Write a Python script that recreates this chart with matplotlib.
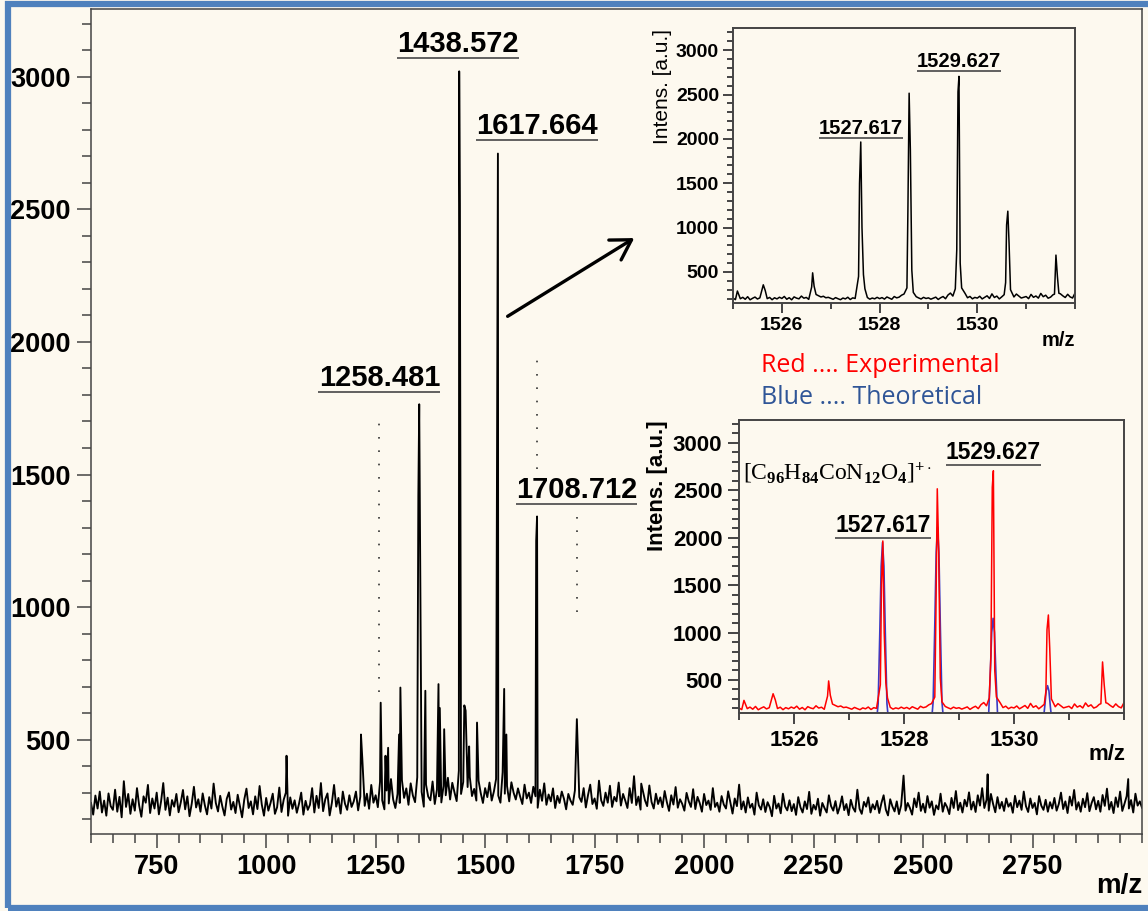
import matplotlib.pyplot as plt
from matplotlib.patches import Rectangle
import numpy as np

# ---- main spectrum: baseline noise every 5 m/z from 600 to 3000 ----
base_start, base_step = 600, 5
base_int = [
    262, 218, 290, 241, 305, 226, 271, 214, 298, 250, 236, 312, 229, 285, 208, 344, 247, 296, 221, 276,
    233, 318, 252, 210, 287, 263, 330, 224, 279, 241, 301, 219, 268, 337, 236, 282, 215, 273, 248, 296,
    227, 264, 311, 238, 287, 212, 259, 323, 245, 276, 229, 298, 253, 219, 284, 241, 335, 262, 230, 289,
    248, 215, 278, 302, 237, 266, 224, 293, 251, 208, 275, 316, 243, 268, 219, 287, 239, 326, 256, 214,
    281, 233, 262, 297, 221, 246, 320, 228, 274, 301, 214, 283, 240, 272, 225, 259, 301, 218, 270, 236,
    255, 318, 226, 289, 243, 337, 231, 276, 298, 215, 262, 330, 248, 281, 222, 305, 259, 236, 291, 247,
    268, 305, 234, 286, 322, 251, 297, 240, 330, 263, 291, 246, 341, 272, 238, 309, 260, 352, 275, 243,
    296, 262, 348, 281, 317, 255, 336, 290, 265, 359, 277, 304, 248, 331, 286, 272, 343, 258, 312, 287,
    264, 326, 291, 357, 275, 338, 302, 269, 384, 296, 341, 277, 322, 360, 288, 315, 271, 346, 299, 262,
    318, 284, 339, 271, 305, 352, 290, 263, 378, 297, 326, 268, 340, 301, 275, 317, 286, 258, 331, 279,
    301, 262, 323, 287, 244, 312, 270, 336, 255, 294, 268, 317, 243, 289, 262, 305, 278, 238, 296, 271,
    255, 309, 236, 284, 266, 318, 245, 292, 331, 258, 279, 240, 346, 272, 251, 301, 263, 327, 247, 285,
    268, 339, 252, 296, 271, 243, 318, 262, 363, 254, 286, 237, 309, 272, 250, 328, 266, 241, 297, 258,
    283, 246, 307, 265, 232, 291, 256, 322, 244, 276, 259, 233, 300, 268, 247, 314, 239, 285, 262, 229,
    296, 254, 271, 236, 318, 247, 263, 229, 288, 256, 241, 306, 265, 222, 279, 250, 331, 238, 268, 226,
    283, 244, 259, 218, 301, 253, 237, 276, 228, 265, 246, 212, 289, 241, 260, 223, 297, 249, 234, 272,
    231, 258, 217, 284, 246, 226, 268, 239, 304, 221, 255, 237, 278, 214, 262, 243, 226, 291, 250, 233,
    269, 222, 248, 287, 235, 258, 216, 274, 244, 229, 312, 240, 221, 266, 248, 283, 226, 257, 238, 270,
    224, 262, 291, 237, 215, 276, 249, 230, 268, 220, 253, 284, 233, 262, 243, 218, 279, 246, 301, 232,
    259, 226, 288, 244, 268, 217, 253, 238, 297, 229, 262, 246, 220, 281, 243, 307, 235, 263, 226, 274,
    249, 302, 237, 267, 228, 291, 252, 318, 243, 274, 233, 296, 258, 227, 284, 241, 266, 232, 279, 248,
    262, 225, 289, 246, 271, 236, 305, 250, 228, 279, 243, 262, 219, 288, 252, 236, 274, 229, 265, 241,
    281, 233, 258, 301, 239, 268, 224, 286, 252, 311, 237, 265, 229, 278, 246, 299, 231, 262, 284, 238,
    270, 229, 292, 251, 316, 237, 266, 224, 283, 247, 305, 232, 259, 288, 241, 273, 226, 297, 252, 268,
    244,
]

# spikes on top of the baseline (m/z, intensity)
peak_mz = [1046.5, 1216.5, 1219.5, 1261.5, 1272.5, 1278.5, 1303.5, 1306.5,
           1347.5, 1349.5, 1363.5, 1393.5, 1396.5, 1406.5, 1440.8, 1442.3,
           1452.5, 1455.5, 1463.5, 1481.5, 1527.6, 1529.2, 1543.5, 1548.5,
           1616.6, 1618.6, 1709.5, 1856.5, 2455.5, 2647.5, 2968.5]
peak_int = [440, 520, 430, 640, 440, 470, 520, 697,
            1420, 1765, 685, 710, 620, 540, 3020, 2515,
            630, 610, 475, 565, 1795, 2710, 692, 520,
            1250, 1342, 578, 335, 365, 370, 352]

# labelled masses: dotted marker lines (top / bottom intensity)
mark_mz = [1258.481, 1617.664, 1708.712]
mark_top = [1725, 1965, 1340]
mark_bot = [680, 1520, 980]

main_labels = ["1258.481", "1438.572", "1617.664", "1708.712"]
main_label_mz = [1258.481, 1438.572, 1617.664, 1708.712]
main_label_int = [1865, 3124, 2815, 1443]

# ---- zoomed isotope pattern 1525-1532 ----
iso_start, iso_step = 1525.0, 0.05
iso_base = [
    205, 188, 236, 198, 214, 192, 221, 186, 203, 217, 195, 208, 242, 226, 199, 213, 187, 209, 196, 215,
    201, 224, 192, 210, 186, 219, 205, 197, 228, 204, 213, 191, 223, 208, 246, 232, 218, 226, 209, 214,
    203, 192, 211, 198, 187, 206, 196, 215, 189, 208, 201, 231, 262, 219, 205, 212, 193, 206, 197, 214,
    199, 211, 194, 218, 205, 192, 223, 208, 216, 238, 251, 226, 271, 213, 248, 221, 207, 195, 214, 201,
    208, 193, 204, 216, 190, 209, 223, 198, 240, 262, 228, 231, 276, 219, 243, 258, 209, 224, 197, 213,
    205, 226, 196, 214, 231, 201, 253, 212, 228, 196, 219, 244, 207, 233, 202, 218, 251, 228, 206, 215,
    223, 199, 247, 214, 229, 205, 258, 221, 238, 204, 216, 243, 208, 226, 254, 231, 212, 248, 219, 206,
    262,
]
exp_mz = [1525.09,
          1525.58, 1525.62, 1525.66,
          1526.61, 1526.63, 1526.66,
          1527.57, 1527.59, 1527.615, 1527.64, 1527.67, 1527.70,
          1528.56, 1528.58, 1528.605, 1528.63, 1528.66, 1528.69,
          1529.55, 1529.58, 1529.605, 1529.625, 1529.65, 1529.68,
          1530.58, 1530.60, 1530.625, 1530.65, 1530.68,
          1531.58, 1531.61, 1531.64, 1531.67]
exp_int = [285,
           270, 355, 290,
           330, 490, 340,
           450, 1500, 1965, 1000, 470, 310,
           320, 1200, 2515, 1880, 520, 270,
           310, 750, 2530, 2705, 600, 320,
           380, 1030, 1185, 830, 300,
           250, 690, 450, 260]

theo_mz = [1525.0,
           1527.49, 1527.53, 1527.56, 1527.585, 1527.61, 1527.635, 1527.66, 1527.69, 1527.73,
           1528.49, 1528.53, 1528.56, 1528.585, 1528.61, 1528.635, 1528.66, 1528.69, 1528.73,
           1529.50, 1529.54, 1529.57, 1529.595, 1529.62, 1529.645, 1529.67, 1529.70, 1529.74,
           1530.49, 1530.53, 1530.56, 1530.585, 1530.61, 1530.635, 1530.66, 1530.69, 1530.73,
           1532.0]
theo_int = [0,
            0, 250, 1000, 1700, 1950, 1700, 1000, 250, 0,
            0, 270, 1080, 1840, 2110, 1840, 1080, 270, 0,
            0, 150, 590, 1000, 1150, 1000, 590, 150, 0,
            0, 60, 225, 385, 440, 385, 225, 60, 0,
            0]

iso_labels = ["1527.617", "1529.627"]
iso_label_mz = [1527.617, 1529.627]
iso_label_int_top = [2122, 2876]
iso_label_int_bot = [2133, 2902]


def merge(start, step, base, mz, inten, gap):
    bx = start + step * np.arange(len(base))
    by = np.array(base, dtype=float)
    px_ = np.array(mz, dtype=float)
    keep = np.array([np.min(np.abs(px_ - v)) > gap for v in bx])
    x = np.concatenate([bx[keep], px_])
    y = np.concatenate([by[keep], np.array(inten, dtype=float)])
    order = np.argsort(x)
    return x[order], y[order]


W, H = 1148, 911
cream = '#FDF9EF'
spine = '#444444'

plt.rcParams['font.family'] = ['Liberation Sans', 'DejaVu Sans']
plt.rcParams['font.weight'] = 'bold'
plt.rcParams['mathtext.fontset'] = 'custom'
plt.rcParams['mathtext.rm'] = 'Liberation Serif'
plt.rcParams['mathtext.it'] = 'Liberation Serif:italic'
plt.rcParams['mathtext.bf'] = 'Liberation Serif:bold'


def box(l, t, r, b):
    return [l / W, 1 - b / H, (r - l) / W, (b - t) / H]


def style(ax, lw, size, maj, mnr, pad):
    ax.set_facecolor(cream)
    for s in ax.spines.values():
        s.set_color(spine)
        s.set_linewidth(lw)
    ax.tick_params(which='both', direction='out', color=spine, width=lw,
                   labelsize=size, pad=pad)
    ax.tick_params(which='major', length=maj)
    ax.tick_params(which='minor', length=mnr)


def peak_label(ax, x, y_text, y_line, text, half, size):
    ax.text(x, y_text, text, ha='center', va='center', fontsize=size,
            fontweight='bold', zorder=5)
    ax.hlines(y_line, x - half, x + half, color='#555555', lw=1.3, zorder=5)


fig = plt.figure(figsize=(W / 100, H / 100), dpi=100, facecolor=cream)

# ---- main spectrum ----
ax = fig.add_axes(box(91, 9, 1142, 834))
style(ax, 1.1, 19.5, 10, 6.5, 4.5)
mx, my = merge(base_start, base_step, base_int, peak_mz, peak_int, 0.5)
ax.plot(mx, my, color='black', lw=1.35)
ax.set_xlim(600, 3000)
ax.set_ylim(145, 3255)
ax.set_xticks(np.arange(750, 2751, 250))
ax.set_xticks(np.arange(600, 3001, 50), minor=True)
ax.set_yticks(np.arange(500, 3001, 500))
ax.set_yticks(np.arange(200, 3201, 100), minor=True)
ax.vlines(mark_mz, mark_bot, mark_top, color='#333333', lw=1.2,
          linestyles=(0, (1, 7)))
for t, x, y in zip(main_labels, main_label_mz, main_label_int):
    peak_label(ax, x, y, y - 55, t, 139, 21)
ax.annotate('', xy=(1846, 2397), xytext=(1546, 2091),
            arrowprops=dict(arrowstyle='->,head_length=0.5,head_width=0.3',
                            lw=2.4, color='black', mutation_scale=28))
fig.text(1142 / W, 1 - 886 / H, 'm/z', ha='right', va='center', fontsize=20)

# ---- zoom, experimental only ----
ax1 = fig.add_axes(box(733, 28, 1075, 303))
style(ax1, 1.4, 14, 7, 4.5, 3)
ex, ey = merge(iso_start, iso_step, iso_base, exp_mz, exp_int, 0.025)
ax1.plot(ex, ey, color='black', lw=1.1)
ax1.set_xlim(1525, 1532)
ax1.set_ylim(150, 3250)
ax1.set_xticks([1526, 1528, 1530])
ax1.set_xticks(np.arange(1525, 1533, 1), minor=True)
ax1.set_yticks(np.arange(500, 3001, 500))
ax1.set_yticks(np.arange(200, 3201, 100), minor=True)
for t, x, y in zip(iso_labels, iso_label_mz, iso_label_int_top):
    peak_label(ax1, x, y, y - 113, t, 0.86, 14.5)
fig.text(662 / W, 1 - 86 / H, 'Intens. [a.u.]', rotation=90, ha='center',
         va='center', fontsize=15, fontweight='normal')
fig.text(1075 / W, 1 - 340 / H, 'm/z', ha='right', va='center', fontsize=14.5)

fig.text(761 / W, 1 - 365 / H, 'Red .... Experimental', color='#FF0000',
         family='Open Sans', fontweight='normal', fontsize=18, va='center')
fig.text(761 / W, 1 - 398 / H, 'Blue .... Theoretical', color='#2F5597',
         family='Open Sans', fontweight='normal', fontsize=18, va='center')

# ---- zoom, experimental vs theoretical ----
ax2 = fig.add_axes(box(739, 420, 1124, 713))
style(ax2, 1.4, 16, 8, 5, 4)
ax2.plot(theo_mz, theo_int, color='#3B3BC4', lw=1.2)
ax2.plot(ex, ey, color='#FF0000', lw=1.1)
ax2.set_xlim(1525, 1532)
ax2.set_ylim(152, 3240)
ax2.set_xticks([1526, 1528, 1530])
ax2.set_xticks(np.arange(1525, 1533, 1), minor=True)
ax2.set_yticks(np.arange(500, 3001, 500))
ax2.set_yticks(np.arange(200, 3201, 100), minor=True)
for t, x, y in zip(iso_labels, iso_label_mz, iso_label_int_bot):
    peak_label(ax2, x, y, y - 135, t, 0.87, 16.5)
fig.text(743 / W, 1 - 473 / H,
         r'[C$_{96}$H$_{84}$CoN$_{12}$O$_{4}$]$^{+\cdot}$',
         family='Liberation Serif', fontweight='normal', fontsize=17,
         ha='left', va='center')
fig.text(658 / W, 1 - 486 / H, 'Intens. [a.u.]', rotation=90, ha='center',
         va='center', fontsize=16)
fig.text(1125 / W, 1 - 755 / H, 'm/z', ha='right', va='center', fontsize=16)

# blue frame round the whole figure
fig.add_artist(Rectangle((8 / W, 1 - 908 / H), 1160 / W, 904 / H,
                         transform=fig.transFigure, fill=False,
                         edgecolor='#4F81BD', lw=4.5, zorder=10))

fig.savefig('out.png', dpi=100, facecolor=cream)
